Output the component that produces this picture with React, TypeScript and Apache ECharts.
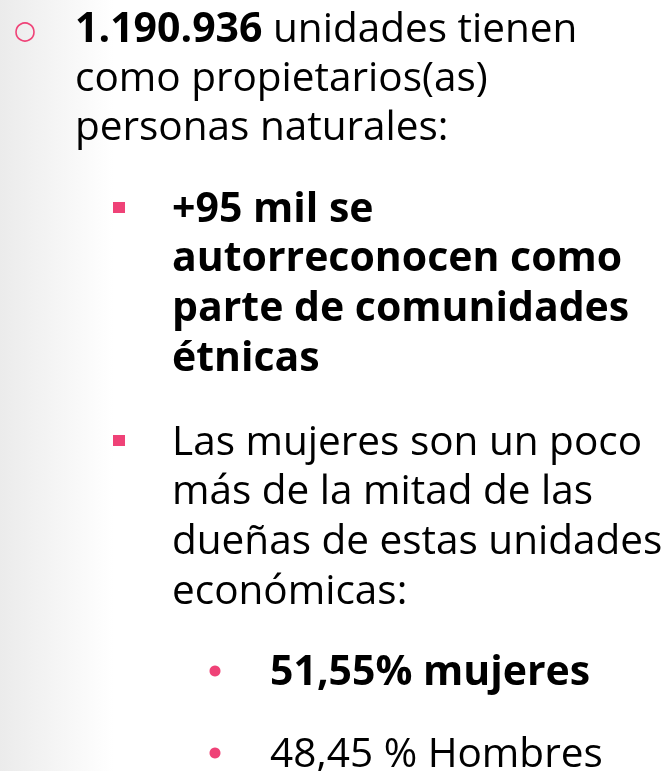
import React, { useEffect, useRef } from "react";
import * as echarts from "echarts";

const headlineBold = "1.190.936";
const headlineLines = [" unidades tienen", "como propietarios(as)", "personas naturales:"];
const ethnicLines = ["+95 mil se", "autorreconocen como", "parte de comunidades", "étnicas"];
const womenLines = ["Las mujeres son un poco", "más de la mitad de las", "dueñas de estas unidades", "económicas:"];
const shareValues = ["51,55%", "48,45 %"];
const shareLabels = ["mujeres", "Hombres"];
const shareBold = [true, false];

const FONT = "'Open Sans', 'Noto Sans', sans-serif";
const PINK = "#ef4277";
const FS = 40.5;
const FSB = 41;
const MID = 0.388 * FS;

export default function App() {
  const ref = useRef<HTMLDivElement>(null);
  useEffect(() => {
    if (!ref.current) return;
    const chart = echarts.init(ref.current, null, { renderer: "svg" });
    const g: any[] = [];
    g.push({
      type: "rect",
      shape: { x: 0, y: 0, width: 668, height: 771 },
      style: {
        fill: new echarts.graphic.LinearGradient(0, 0, 1, 0, [
          { offset: 0, color: "#ebebeb" },
          { offset: 0.17, color: "#ffffff" },
          { offset: 1, color: "#ffffff" },
        ]),
      },
      silent: true,
    });
    // level 1 bullet
    g.push({ type: "circle", shape: { cx: 25, cy: 32, r: 9 }, style: { fill: "none", stroke: PINK, lineWidth: 1.6 } });
    const base1 = [42, 91, 140];
    headlineLines.forEach((t, i) => {
      g.push({
        type: "text",
        x: 75,
        y: base1[i] - MID,
        style: {
          text: i === 0 ? `{b|${headlineBold}}{n|${t}}` : `{n|${t}}`,
          rich: {
            b: { fontFamily: FONT, fontSize: FSB, fontWeight: "bold", fill: "#000" },
            n: { fontFamily: FONT, fontSize: FS, fill: "#000" },
          },
          verticalAlign: "middle",
        },
      });
    });
    // level 2
    const base2a = [222, 271, 321, 371];
    g.push({ type: "rect", shape: { x: 113, y: 202, width: 12, height: 11 }, style: { fill: PINK } });
    ethnicLines.forEach((t, i) => {
      g.push({
        type: "text",
        x: 172,
        y: base2a[i] - MID,
        style: { text: t, fontFamily: FONT, fontSize: FSB, fontWeight: "bold", fill: "#000", verticalAlign: "middle" },
      });
    });
    const base2b = [455, 504, 554, 604];
    g.push({ type: "rect", shape: { x: 113, y: 435, width: 12, height: 11 }, style: { fill: PINK } });
    womenLines.forEach((t, i) => {
      g.push({
        type: "text",
        x: 172,
        y: base2b[i] - MID,
        style: { text: t, fontFamily: FONT, fontSize: FS, fill: "#000", verticalAlign: "middle" },
      });
    });
    // level 3
    const base3 = [685, 767];
    shareValues.forEach((v, i) => {
      g.push({ type: "circle", shape: { cx: 215, cy: base3[i] - 14, r: 5.5 }, style: { fill: PINK } });
      g.push({
        type: "text",
        x: 270,
        y: base3[i] - MID,
        style: {
          text: `${v} ${shareLabels[i]}`,
          fontFamily: FONT,
          fontSize: shareBold[i] ? FSB : FS,
          fontWeight: shareBold[i] ? "bold" : "normal",
          fill: "#000",
          verticalAlign: "middle",
        },
      });
    });
    chart.setOption({ animation: false, graphic: { elements: g } });
    return () => chart.dispose();
  }, []);
  return <div ref={ref} style={{ position: "fixed", left: 0, top: 0, width: 668, height: 771 }} />;
}
